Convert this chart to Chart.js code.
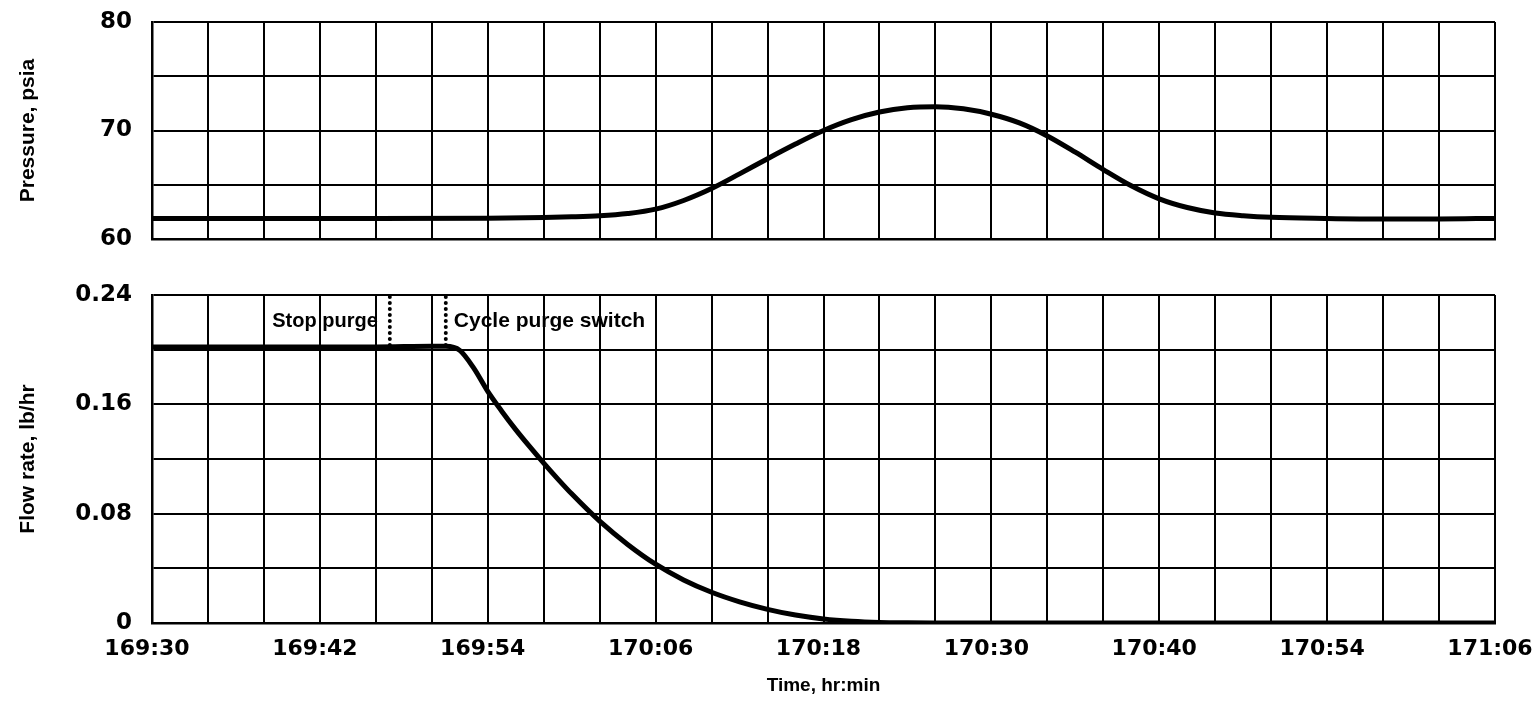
<!DOCTYPE html>
<html>
<head>
<meta charset="utf-8">
<script src="https://cdn.jsdelivr.net/npm/chart.js@4.4.1/dist/chart.umd.min.js"></script>
<style>
  html, body { margin: 0; padding: 0; background: #fff; }
  #wrap { position: relative; width: 1538px; height: 706px; }
  #topBox { position: absolute; left: 0; top: 0; width: 1538px; height: 250px; }
  #botBox { position: absolute; left: 0; top: 270px; width: 1538px; height: 436px; }
</style>
</head>
<body>
<div id="wrap">
  <div id="topBox"><canvas id="pressChart"></canvas></div>
  <div id="botBox"><canvas id="flowChart"></canvas></div>
</div>
<script>
// time is in minutes after 169:30
const timeTicks = ['169:30', '169:42', '169:54', '170:06', '170:18', '170:30', '170:40', '170:54', '171:06'];
const pressureTicks = ['60', '70', '80'];
const flowTicks = ['0', '0.08', '0.16', '0.24'];

const pressTime  = [0, 8, 16, 24, 28, 30, 32, 34, 36, 38, 40, 42, 44, 46, 48, 50, 52, 54, 56, 58, 60, 62, 64, 66, 68, 70, 72, 74, 76, 78, 80, 84, 88, 92, 96];
const pressValue = [61.9, 61.9, 61.9, 61.92, 61.98, 62.04, 62.14, 62.35, 62.75, 63.55, 64.65, 66.0, 67.4, 68.75, 70.0, 71.0, 71.7, 72.1, 72.2, 72.0, 71.5, 70.7, 69.5, 68.0, 66.4, 64.9, 63.7, 62.9, 62.4, 62.15, 62.0, 61.9, 61.85, 61.85, 61.9];

const flowTime  = [0, 8, 16, 20, 21, 22, 23, 24, 25, 26, 27, 28, 29, 30, 32, 34, 36, 38, 40, 42, 44, 46, 48, 50, 52, 54, 56, 96];
const flowValue = [0.202, 0.202, 0.202, 0.2025, 0.2025, 0.1995, 0.1865, 0.1695, 0.155, 0.1415, 0.129, 0.117, 0.1055, 0.0945, 0.0745, 0.0575, 0.043, 0.0315, 0.0225, 0.0155, 0.010, 0.0058, 0.003, 0.0013, 0.0004, 0.0001, 0, 0];

const eventTime  = [17, 21];
const eventLabel = ['Stop purge', 'Cycle purge switch'];
const eventTop = 0.2385;
const eventBottom = 0.203;
const eventTextY = 0.2205;

const toXY = (xs, ys) => xs.map((x, i) => ({ x: x, y: ys[i] }));

const tickFont = { family: 'DejaVu Sans', weight: 'bold', size: 22 };
const yTickFont = { family: 'DejaVu Sans', weight: 'bold', size: 23 };
const titleFont = { family: 'Liberation Sans', weight: 'bold', size: 21 };

function xAxis(showLabels, height) {
  return {
    type: 'linear',
    min: 0,
    max: 96,
    grid: { color: '#000', lineWidth: 2, drawTicks: false },
    border: { color: '#000', width: 2.5 },
    ticks: {
      display: showLabels,
      stepSize: 4,
      autoSkip: false,
      maxRotation: 0,
      padding: 13,
      labelOffset: -5,
      color: '#000',
      font: tickFont,
      callback: (v) => (v % 12 === 0 ? timeTicks[v / 12] : '')
    },
    title: showLabels ? {
      display: true,
      text: 'Time, hr:min',
      color: '#000',
      font: { family: 'Liberation Sans', weight: 'bold', size: 19 },
      padding: { top: 0, bottom: 9 }
    } : { display: false },
    afterFit: (s) => { s.height = height; s.paddingLeft = 0; s.paddingRight = 0; }
  };
}

function yAxis(min, max, step, labels, title) {
  return {
    min: min,
    max: max,
    grid: { color: '#000', lineWidth: 2, drawTicks: false },
    border: { color: '#000', width: 2.5 },
    ticks: {
      stepSize: step,
      padding: 20,
      color: '#000',
      font: yTickFont,
      callback: (v, i) => (i % 2 === 0 ? labels[i / 2] : '')
    },
    title: {
      display: true,
      text: title,
      color: '#000',
      font: titleFont,
      padding: { top: 16, bottom: 0 }
    },
    afterFit: (s) => { s.width = 152; s.paddingTop = 0; s.paddingBottom = 0; }
  };
}

// text next to the dotted event lines
const eventText = {
  id: 'eventText',
  afterDatasetsDraw(chart) {
    const { ctx, scales } = chart;
    ctx.save();
    ctx.fillStyle = '#000';
    ctx.font = 'bold 20px "Liberation Sans"';
    ctx.textBaseline = 'middle';
    const y = scales.y.getPixelForValue(eventTextY);
    ctx.textAlign = 'right';
    ctx.fillText(eventLabel[0], scales.x.getPixelForValue(eventTime[0]) - 12, y);
    ctx.font = 'bold 21px "Liberation Sans"';
    ctx.textAlign = 'left';
    ctx.fillText(eventLabel[1], scales.x.getPixelForValue(eventTime[1]) + 8, y);
    ctx.restore();
  }
};

new Chart(document.getElementById('pressChart'), {
  type: 'line',
  data: {
    datasets: [{
      data: toXY(pressTime, pressValue),
      borderColor: '#000',
      borderWidth: 5,
      pointRadius: 0,
      cubicInterpolationMode: 'monotone'
    }]
  },
  options: {
    responsive: true,
    maintainAspectRatio: false,
    animation: false,
    layout: { padding: { top: 22, right: 43, bottom: 0, left: 0 } },
    plugins: { legend: { display: false }, tooltip: { enabled: false } },
    scales: {
      x: xAxis(false, 11),
      y: yAxis(60, 80, 5, pressureTicks, 'Pressure, psia')
    }
  }
});

const eventSets = eventTime.map(t => ({
  data: [{ x: t, y: eventTop }, { x: t, y: eventBottom }],
  borderColor: '#000',
  borderWidth: 4,
  borderDash: [0, 6],
  borderCapStyle: 'round',
  pointRadius: 0
}));

new Chart(document.getElementById('flowChart'), {
  type: 'line',
  data: {
    datasets: [{
      data: toXY(flowTime, flowValue),
      borderColor: '#000',
      borderWidth: 5,
      pointRadius: 0,
      cubicInterpolationMode: 'monotone'
    }].concat(eventSets)
  },
  options: {
    responsive: true,
    maintainAspectRatio: false,
    animation: false,
    layout: { padding: { top: 25, right: 43, bottom: 0, left: 0 } },
    plugins: { legend: { display: false }, tooltip: { enabled: false } },
    scales: {
      x: xAxis(true, 83),
      y: yAxis(0, 0.24, 0.04, flowTicks, 'Flow rate, lb/hr')
    }
  },
  plugins: [eventText]
});
</script>
</body>
</html>
